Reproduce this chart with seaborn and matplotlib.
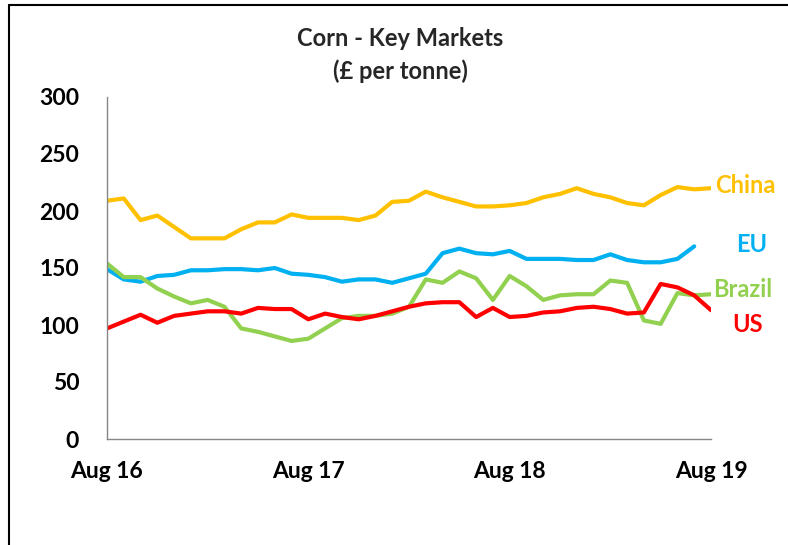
"""Corn - key market prices, Aug 16 to Aug 19."""

import matplotlib

matplotlib.use("Agg")
import matplotlib.pyplot as plt
import numpy as np
import pandas as pd
import seaborn as sns
from matplotlib.lines import Line2D

TICK_LABELS = ["Aug 16", "Aug 17", "Aug 18", "Aug 19"]
TICK_MONTHS = [0, 12, 24, 36]

CHINA = [209, 211, 192, 196, 186, 176, 176, 176, 184, 190, 190, 197, 194, 194, 194, 192, 196, 208,
         209, 217, 212, 208, 204, 204, 205, 207, 212, 215, 220, 215, 212, 207, 205, 214, 221, 219, 220]
EU = [149, 140, 138, 143, 144, 148, 148, 149, 149, 148, 150, 145, 144, 142, 138, 140, 140, 137,
      141, 145, 163, 167, 163, 162, 165, 158, 158, 158, 157, 157, 162, 157, 155, 155, 158, 169]
BRAZIL = [154, 142, 142, 132, 125, 119, 122, 116, 97, 94, 90, 86, 88, 97, 106, 108, 108, 110,
          116, 140, 137, 147, 141, 122, 143, 134, 122, 126, 127, 127, 139, 137, 104, 101, 128, 126, 127]
US = [97, 103, 109, 102, 108, 110, 112, 112, 110, 115, 114, 114, 105, 110, 107, 105, 108, 112,
      116, 119, 120, 120, 107, 115, 107, 108, 111, 112, 115, 116, 114, 110, 111, 136, 133, 126, 113]

SERIES = {"China": CHINA, "EU": EU, "Brazil": BRAZIL, "US": US}
COLORS = {"China": "#FFC000", "EU": "#00B0F0", "Brazil": "#92D050", "US": "#FF0000"}


def long_frame() -> pd.DataFrame:
    frames = []
    for name, values in SERIES.items():
        frames.append(pd.DataFrame({"month": np.arange(len(values)), "price": values, "market": name}))
    return pd.concat(frames, ignore_index=True)


def main() -> None:
    sns.set_style("white")
    plt.rcParams["font.family"] = ["Lato", "DejaVu Sans"]
    plt.rcParams["font.weight"] = "bold"

    fig = plt.figure(figsize=(7.88, 5.45), dpi=100)
    ax = fig.add_axes([107 / 788, 106 / 545, 604 / 788, 342 / 545])

    sns.lineplot(data=long_frame(), x="month", y="price", hue="market", palette=COLORS,
                 hue_order=list(SERIES), linewidth=3, legend=False, ax=ax)

    ax.set_xlim(0, 36)
    ax.set_ylim(0, 300)
    ax.set_xticks(TICK_MONTHS, TICK_LABELS)
    ax.set_yticks(range(0, 301, 50))
    ax.set(xlabel="", ylabel="")
    ax.tick_params(axis="both", direction="out", length=6, width=1, color="#868686",
                   labelsize=16.5, labelcolor="black")
    ax.tick_params(axis="x", pad=10)
    ax.tick_params(axis="y", pad=14)
    for side in ("top", "right"):
        ax.spines[side].set_visible(False)
    for side in ("left", "bottom"):
        ax.spines[side].set_color("#868686")
        ax.spines[side].set_linewidth(1)

    fig.text(400 / 788, 1 - 38 / 545, "Corn - Key Markets", ha="center", va="center",
             fontsize=17, fontweight="bold")
    fig.text(400 / 788, 1 - 71 / 545, "(£ per tonne)", ha="center", va="center",
             fontsize=17, fontweight="bold")

    ax.text(36.25, 222, "China", color=COLORS["China"], ha="left", va="center", fontsize=17, fontweight="bold")
    ax.text(38.4, 171, "EU", color=COLORS["EU"], ha="center", va="center", fontsize=17, fontweight="bold")
    ax.text(36.1, 131.5, "Brazil", color=COLORS["Brazil"], ha="left", va="center", fontsize=17, fontweight="bold")
    ax.text(38.2, 100, "US", color=COLORS["US"], ha="center", va="center", fontsize=17, fontweight="bold")

    # frame edges visible on the left and top of the original picture
    fig.add_artist(Line2D([9 / 788, 9 / 788], [0, 1 - 5 / 545], color="black", linewidth=1.5))
    fig.add_artist(Line2D([9 / 788, 1], [1 - 5 / 545, 1 - 5 / 545], color="black", linewidth=1.5))

    fig.savefig("out.png", dpi=100)
    plt.close(fig)


if __name__ == "__main__":
    main()
